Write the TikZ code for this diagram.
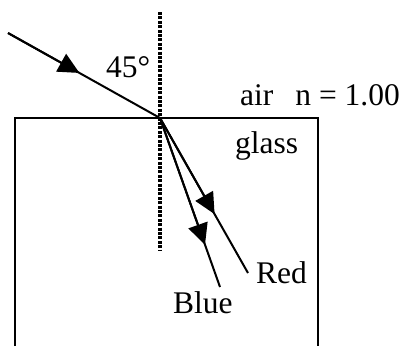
\documentclass[tikz,border=0pt]{standalone}
\usepackage{fontspec}
\setmainfont{Liberation Serif}
\usetikzlibrary{arrows.meta,calc}

\begin{document}
\begin{tikzpicture}[x=1pt,y=-1pt,
    ray/.style={line width=2pt},
    wall/.style={line width=2pt},
    normal/.style={line width=3.6pt,dash pattern=on 3pt off 1.4pt},
    head/.style={line width=2pt,-{Triangle[length=21pt,width=20pt]}},
    lbl/.style={anchor=base west,inner sep=0pt,font=\fontsize{31.5}{34}\selectfont}]

    \useasboundingbox (0,0) rectangle (403,346);

    \coordinate (src) at (8,33);
    \coordinate (hit) at (160,118);
    \coordinate (blueend) at (220,287);
    \coordinate (redend) at (248,273);
    \coordinate (intip) at ($(src)!0.47!(hit)$);
    \coordinate (redtip) at ($(hit)!0.62!(redend)$);
    \coordinate (bluetip) at ($(hit)!0.75!(blueend)$);

    \draw[normal] (160,12) -- (160,250);
    \draw[wall] (15,346) -- (15,118) -- (318,118) -- (318,346);

    \draw[ray] (src) -- (hit) -- (redend);
    \draw[ray] (hit) -- (blueend);
    \draw[head] (src) -- (intip);
    \draw[head] (hit) -- (redtip);
    \draw[head] (hit) -- (bluetip);

    \node[lbl] (angle) at (106,77) {45°};
    \node[lbl] (air) at (240,105) {air\hspace{0.7em}n = 1.00};
    \node[lbl] (glass) at (235,153) {glass};
    \node[lbl] (red) at (256,283) {Red};
    \node[lbl] (blue) at (173,313) {Blue};

\end{tikzpicture}
\end{document}
